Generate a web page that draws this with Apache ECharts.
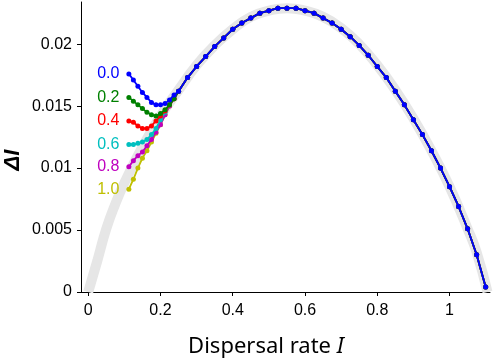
<!DOCTYPE html>
<html>
<head>
<meta charset="utf-8">
<script src="https://cdn.jsdelivr.net/npm/echarts@6/dist/echarts.min.js"></script>
<style>
html, body { margin: 0; padding: 0; background: #fff; }
#main { width: 498px; height: 362px; }
</style>
</head>
<body>
<div id="main"></div>
<script>
// broad grey reference curve
var grayX = [0, 0.025, 0.05, 0.075, 0.1, 0.15, 0.2, 0.25, 0.3, 0.35, 0.4, 0.45, 0.5, 0.55, 0.6, 0.65, 0.7, 0.75, 0.8, 0.85, 0.9, 0.95, 1.0, 1.05, 1.075, 1.105];
var grayY = [0, 0.0025, 0.0051, 0.0071, 0.0088, 0.0117, 0.0142, 0.0163, 0.0183, 0.0199, 0.0212, 0.0222, 0.0227, 0.0229, 0.0227, 0.0222, 0.0213, 0.0200, 0.0183, 0.0163, 0.0140, 0.0114, 0.0085, 0.0051, 0.0032, 0];

// start of each coloured curve (they differ only here)
var startX = [0.1125, 0.125, 0.1375, 0.15, 0.1625, 0.175, 0.1875, 0.2, 0.2125, 0.225, 0.2375];
var y00 = [0.0176, 0.0171, 0.0166, 0.0161, 0.0157, 0.0153, 0.0151, 0.0151, 0.0152, 0.0155, 0.0159];
var y02 = [0.0157, 0.0154, 0.0151, 0.0148, 0.0145, 0.0143, 0.0142, 0.0144, 0.0147, 0.0151, 0.0156];
var y04 = [0.0138, 0.0137, 0.0134, 0.0132, 0.0132, 0.0134, 0.0138, 0.0142, 0.0146, 0.0151, 0.0156];
var y06 = [0.0119, 0.0119, 0.0120, 0.0121, 0.0123, 0.0127, 0.0132, 0.0139, 0.0145, 0.0151, 0.0156];
var y08 = [0.0101, 0.0106, 0.0110, 0.0113, 0.0118, 0.0123, 0.0129, 0.0135, 0.0143, 0.0150, 0.0156];
var y10 = [0.0083, 0.0091, 0.0100, 0.0108, 0.0114, 0.0121, 0.0128, 0.0135, 0.0143, 0.0150, 0.0156];

// shared part, all curves lie on top of each other
var commonX = [0.25, 0.275, 0.3, 0.325, 0.35, 0.375, 0.4, 0.425, 0.45, 0.475, 0.5, 0.525, 0.55, 0.575, 0.6, 0.625, 0.65, 0.675, 0.7, 0.725, 0.75, 0.775, 0.8, 0.825, 0.85, 0.875, 0.9, 0.925, 0.95, 0.975, 1.0, 1.025, 1.05, 1.075, 1.1];
var commonY = [0.0162, 0.0173, 0.0182, 0.0190, 0.0198, 0.0205, 0.0212, 0.0217, 0.0221, 0.0225, 0.0227, 0.0229, 0.0229, 0.0229, 0.0227, 0.0225, 0.0221, 0.0217, 0.0212, 0.0206, 0.0199, 0.0191, 0.0182, 0.0173, 0.0162, 0.0151, 0.0139, 0.0127, 0.0114, 0.0100, 0.0085, 0.0069, 0.0051, 0.0030, 0.0004];

var curveNames = ['1.0', '0.8', '0.6', '0.4', '0.2', '0.0'];
var curveColors = ['#bfbf00', '#bf00bf', '#00bfbf', '#ff0000', '#008000', '#0000ff'];
var curveStarts = [y10, y08, y06, y04, y02, y00];

var xTicks = [0, 0.2, 0.4, 0.6, 0.8, 1];
var yTicks = [0, 0.005, 0.01, 0.015, 0.02];

var myChart = echarts.init(document.getElementById('main'));

function pairs(xs, ys) {
    return xs.map(function (x, i) { return [x, ys[i]]; });
}

var series = [{
    type: 'line',
    data: pairs(grayX, grayY),
    smooth: true,
    showSymbol: false,
    lineStyle: { color: '#e6e6e6', width: 10 },
    z: 1
}];

curveNames.forEach(function (name, k) {
    var pts = pairs(startX, curveStarts[k]).concat(pairs(commonX, commonY));
    var data = pts.map(function (p, i) {
        if (i !== 0) return p;
        return {
            value: p,
            label: {
                show: true,
                position: 'left',
                distance: 7,
                formatter: name,
                color: curveColors[k],
                fontSize: 16,
                fontFamily: 'Liberation Sans'
            }
        };
    });
    series.push({
        type: 'line',
        name: name,
        data: data,
        symbol: 'circle',
        symbolSize: 5,
        itemStyle: { color: curveColors[k] },
        lineStyle: { color: curveColors[k], width: 1.8 },
        z: 2 + k
    });
});

var option = {
    animation: false,
    backgroundColor: '#fff',
    grid: { left: 81, right: 8, top: 2, bottom: 70, containLabel: false },
    xAxis: {
        type: 'value',
        min: -0.02,
        max: 1.112,
        splitLine: { show: false },
        axisLine: { show: true, onZero: false, lineStyle: { color: '#000', width: 1 } },
        axisTick: { show: true, length: 4, customValues: xTicks, lineStyle: { color: '#000' } },
        axisLabel: {
            customValues: xTicks,
            color: '#000',
            fontSize: 16,
            fontFamily: 'Liberation Sans',
            margin: 11
        }
    },
    yAxis: {
        type: 'value',
        min: 0,
        max: 0.0234,
        splitLine: { show: false },
        axisLine: { show: true, onZero: false, lineStyle: { color: '#000', width: 1 } },
        axisTick: { show: true, length: 4, customValues: yTicks, lineStyle: { color: '#000' } },
        axisLabel: {
            customValues: yTicks,
            color: '#000',
            fontSize: 16,
            fontFamily: 'Liberation Sans',
            margin: 9,
            formatter: function (v) { return String(+v.toFixed(3)); }
        }
    },
    graphic: [{
        type: 'text',
        x: 266,
        y: 347,
        style: {
            text: 'Dispersal rate {i|I}',
            fill: '#000',
            font: '22px "Noto Sans"',
            align: 'center',
            verticalAlign: 'middle',
            rich: { i: { fontStyle: 'italic', fontSize: 22, fontFamily: 'Noto Sans' } }
        }
    }, {
        type: 'text',
        x: 13,
        y: 160,
        rotation: Math.PI / 2,
        style: {
            text: 'ΔI',
            fill: '#000',
            font: 'italic bold 22px "Liberation Sans"',
            align: 'center',
            verticalAlign: 'middle'
        }
    }],
    series: series
};

myChart.setOption(option);
</script>
</body>
</html>
